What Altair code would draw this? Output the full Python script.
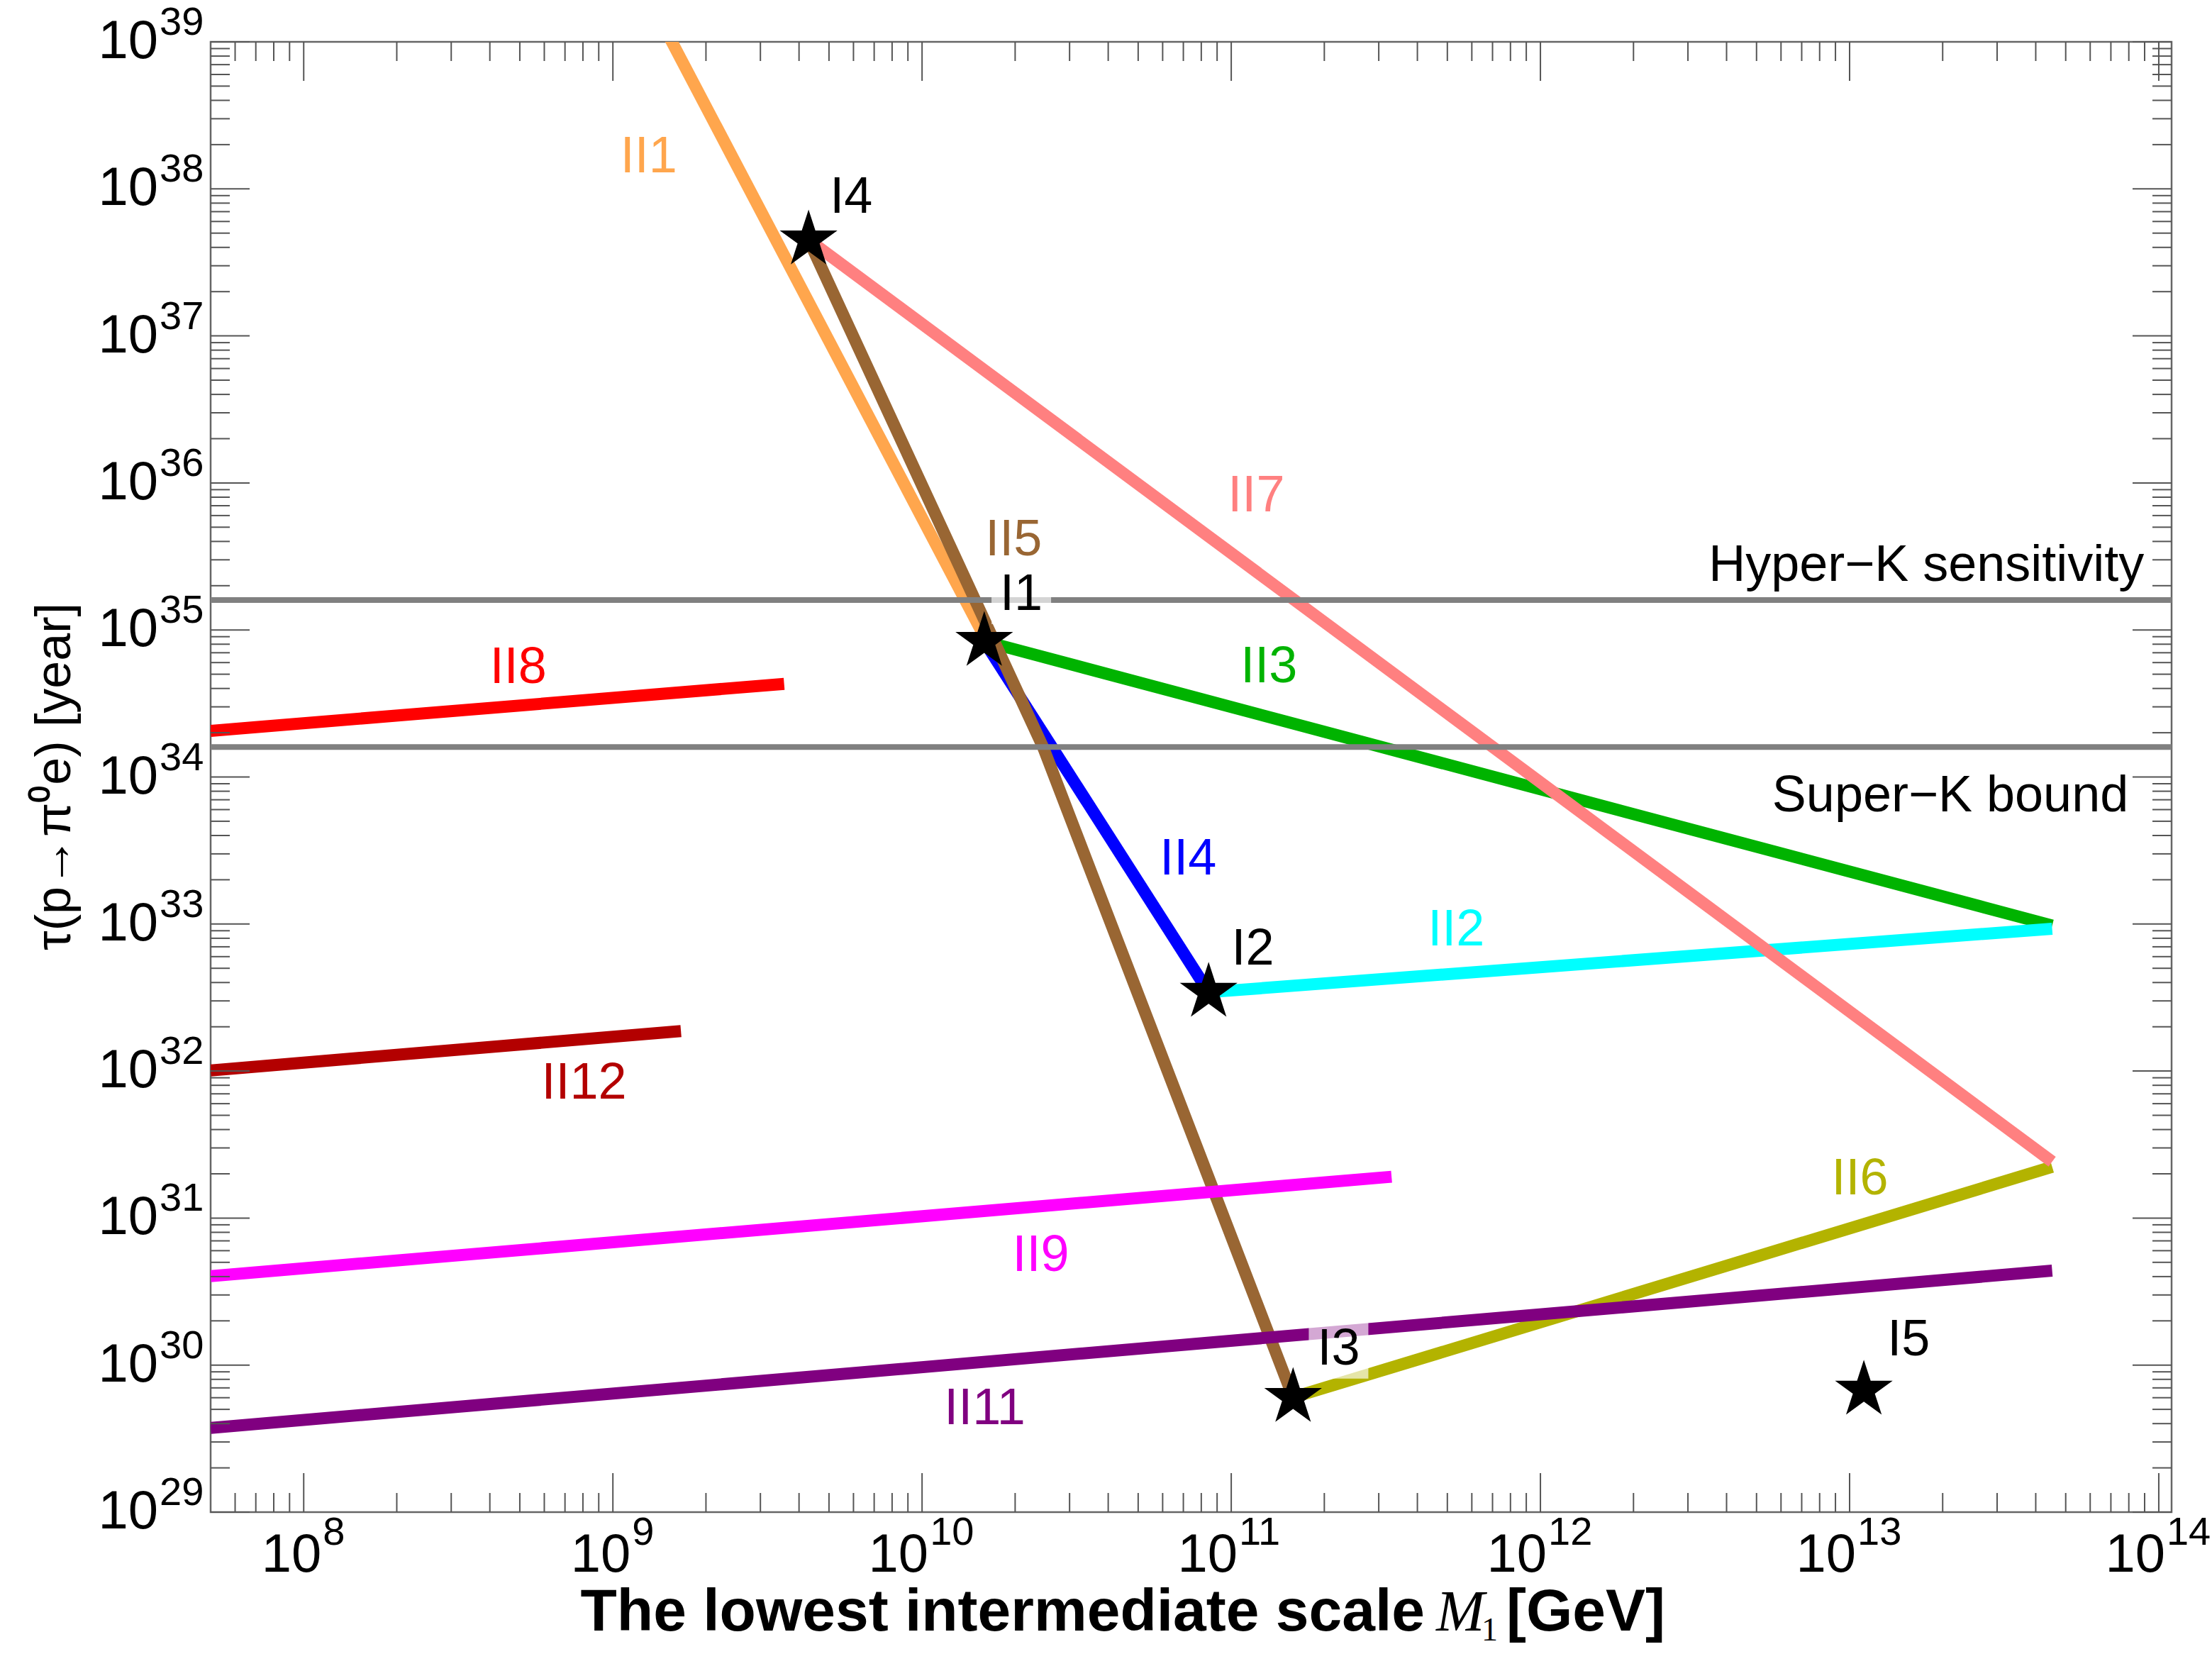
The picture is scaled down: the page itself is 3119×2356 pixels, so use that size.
import altair as alt
import pandas as pd

# ---------------- data ----------------
X_DOMAIN = [5e7, 1.1e14]
Y_DOMAIN = [1e29, 1e39]

II1_x = [1.26e9, 1.55e10]
II1_y = [2.3e39, 1.0e35]

II5_x = [4.295e9, 2.466e10, 1.585e11]
II5_y = [4.50e37, 1.585e34, 6.03e29]

II4_x = [1.589e10, 8.45e10]
II4_y = [8.38e34, 3.44e32]

II3_x = [1.589e10, 4.52e13]
II3_y = [8.38e34, 9.77e32]

II2_x = [8.45e10, 4.52e13]
II2_y = [3.44e32, 9.29e32]

II6_x = [1.585e11, 4.52e13]
II6_y = [6.03e29, 2.23e31]

II7_x = [4.295e9, 4.52e13]
II7_y = [4.50e37, 2.42e31]

II9_x = [5e7, 3.30e11]
II9_y = [4.03e30, 1.91e31]

II11_x = [5e7, 4.52e13]
II11_y = [3.74e29, 4.39e30]

II8_x = [5e7, 3.58e9]
II8_y = [2.06e34, 4.30e34]

II12_x = [5e7, 1.66e9]
II12_y = [1.01e32, 1.87e32]

# drawing order of the curves
series_order = ["II1", "II4", "II3", "II2", "II5", "II6", "II7", "II9", "II11", "II8", "II12"]
series_x = {"II1": II1_x, "II5": II5_x, "II4": II4_x, "II3": II3_x, "II2": II2_x, "II6": II6_x,
            "II7": II7_x, "II9": II9_x, "II11": II11_x, "II8": II8_x, "II12": II12_x}
series_y = {"II1": II1_y, "II5": II5_y, "II4": II4_y, "II3": II3_y, "II2": II2_y, "II6": II6_y,
            "II7": II7_y, "II9": II9_y, "II11": II11_y, "II8": II8_y, "II12": II12_y}

# benchmark points (stars)
star_names = ["I1", "I2", "I3", "I4", "I5"]
star_x = [1.589e10, 8.45e10, 1.585e11, 4.295e9, 1.112e13]
star_y = [8.38e34, 3.44e32, 6.03e29, 4.50e37, 6.76e29]

# experimental limits
ref_names = ["Hyper\u2212K sensitivity", "Super\u2212K bound"]
ref_values = [1.6e35, 1.6e34]
ref_label_x = [8.97e13, 7.98e13]
ref_label_y = [2.75e35, 7.45e33]

# curve / point labels
label_text = ["II1", "I4", "II7", "II5", "I1", "II3", "II4", "I2", "II8", "II2",
              "II12", "II6", "II9", "I3", "I5", "II11"]
label_x = [1.306e9, 5.90e9, 1.205e11, 1.977e10, 2.094e10, 1.325e11, 7.25e10, 1.175e11, 4.94e8,
           5.34e11, 8.07e8, 1.08e13, 2.42e10, 2.224e11, 1.553e13, 1.595e10]
label_y = [1.66e38, 8.79e37, 8.2e35, 4.11e35, 1.746e35, 5.62e34, 2.78e33, 6.76e32, 5.56e34,
           9.16e32, 8.32e31, 1.858e31, 5.57e30, 1.29e30, 1.486e30, 5.06e29]

# ticks
x_major = [1e8, 1e9, 1e10, 1e11, 1e12, 1e13, 1e14]
x_major_exp = ["8", "9", "10", "11", "12", "13", "14"]
y_major = [1e29, 1e30, 1e31, 1e32, 1e33, 1e34, 1e35, 1e36, 1e37, 1e38, 1e39]
y_major_exp = ["29", "30", "31", "32", "33", "34", "35", "36", "37", "38", "39"]
minor_mult = [2, 3, 4, 5, 6, 7, 8, 9]
x_decades = [1e7, 1e8, 1e9, 1e10, 1e11, 1e12, 1e13]
y_decades = [1e29, 1e30, 1e31, 1e32, 1e33, 1e34, 1e35, 1e36, 1e37, 1e38]

# ---------------- styles ----------------
W, H = 2765, 2073
colors = {"II1": "#FFA64D", "II5": "#996633", "II4": "#0000FF", "II3": "#00B300", "II2": "#00FFFF",
          "II6": "#B3B300", "II7": "#FF8080", "II9": "#FF00FF", "II11": "#800080", "II8": "#FF0000",
          "II12": "#B30000"}
label_colors = {"I1": "black", "I2": "black", "I3": "black", "I4": "black", "I5": "black"}
FONT = "Liberation Sans"
SERIF = "Liberation Serif"
TICK_COLOR = "#555555"
STAR = ("M0,-1L0.2245,-0.309L0.9511,-0.309L0.3633,0.118L0.5878,0.809L0,0.382"
        "L-0.5878,0.809L-0.3633,0.118L-0.9511,-0.309L-0.2245,-0.309Z")

xs = alt.Scale(type="log", domain=X_DOMAIN, nice=False)
ys = alt.Scale(type="log", domain=Y_DOMAIN, nice=False)


def X(f):
    return alt.X(f, type="quantitative", scale=xs, axis=None)


def Y(f):
    return alt.Y(f, type="quantitative", scale=ys, axis=None)


layers = []

# curves
for name in series_order:
    df = pd.DataFrame({"x": series_x[name], "y": series_y[name]})
    layers.append(
        alt.Chart(df).mark_line(color=colors[name], strokeWidth=17, strokeCap="butt",
                                strokeJoin="round", clip=True)
        .encode(x=X("x"), y=Y("y"))
    )

# experimental limits
ref_df = pd.DataFrame({"name": ref_names, "v": ref_values})
layers.append(alt.Chart(ref_df).mark_rule(color="#808080", strokeWidth=8).encode(y=Y("v")))

# label backgrounds (for the benchmark labels)
lab_df = pd.DataFrame({"t": label_text, "x": label_x, "y": label_y})
lab_df["c"] = [label_colors.get(t, colors.get(t, "black")) for t in label_text]
box_df = lab_df[lab_df["t"].isin(star_names)]
layers.append(
    alt.Chart(box_df).mark_point(shape="square", filled=True, color="white", opacity=0.66,
                                 size=7056, strokeWidth=0)
    .encode(x=X("x"), y=Y("y"))
)

# stars
star_df = pd.DataFrame({"n": star_names, "x": star_x, "y": star_y})
layers.append(
    alt.Chart(star_df).mark_point(shape=STAR, filled=True, color="black", opacity=1, size=7300,
                                  strokeWidth=0)
    .encode(x=X("x"), y=Y("y"))
)

# labels
layers.append(
    alt.Chart(lab_df).mark_text(font=FONT, fontSize=72, align="center", baseline="middle")
    .encode(x=X("x"), y=Y("y"), text="t:N", color=alt.Color("c:N", scale=None))
)
ref_lab_df = pd.DataFrame({"t": ref_names, "x": ref_label_x, "y": ref_label_y})
layers.append(
    alt.Chart(ref_lab_df).mark_text(font=FONT, fontSize=72, align="right", baseline="middle",
                                    color="black")
    .encode(x=X("x"), y=Y("y"), text="t:N")
)

# frame ticks
x_minor = [m * d for d in x_decades for m in minor_mult if X_DOMAIN[0] < m * d < X_DOMAIN[1]]
y_minor = [m * d for d in y_decades for m in minor_mult]
for vals, ln in [(x_major, 55), (x_minor, 27)]:
    d = pd.DataFrame({"v": vals})
    layers.append(alt.Chart(d).mark_rule(color=TICK_COLOR, strokeWidth=2)
                  .encode(x=X("v"), y=alt.value(H), y2=alt.value(H - ln)))
    layers.append(alt.Chart(d).mark_rule(color=TICK_COLOR, strokeWidth=2)
                  .encode(x=X("v"), y=alt.value(0), y2=alt.value(ln)))
for vals, ln in [(y_major, 55), (y_minor, 27)]:
    d = pd.DataFrame({"v": vals})
    layers.append(alt.Chart(d).mark_rule(color=TICK_COLOR, strokeWidth=2)
                  .encode(y=Y("v"), x=alt.value(0), x2=alt.value(ln)))
    layers.append(alt.Chart(d).mark_rule(color=TICK_COLOR, strokeWidth=2)
                  .encode(y=Y("v"), x=alt.value(W), x2=alt.value(W - ln)))

# y tick labels
ydf = pd.DataFrame({"v": y_major, "e": y_major_exp})
layers.append(alt.Chart(ydf).mark_text(font=FONT, fontSize=76, align="right", baseline="middle",
                                       text="10", color="black")
              .encode(x=alt.value(-74), y=Y("v")))
layers.append(alt.Chart(ydf).mark_text(font=FONT, fontSize=56, align="left", baseline="alphabetic",
                                       dy=-10, color="black")
              .encode(x=alt.value(-72), y=Y("v"), text="e:N"))

# x tick labels
xdf = pd.DataFrame({"v": x_major, "e": x_major_exp})
x1 = xdf[xdf["e"].str.len() == 1]
x2 = xdf[xdf["e"].str.len() == 2]
for d, dx10, dxe in [(x1, 25, 27), (x2, 9, 11)]:
    layers.append(alt.Chart(d).mark_text(font=FONT, fontSize=76, align="right", baseline="alphabetic",
                                         text="10", dx=dx10, color="black")
                  .encode(x=X("v"), y=alt.value(H + 84)))
    layers.append(alt.Chart(d).mark_text(font=FONT, fontSize=56, align="left", baseline="alphabetic",
                                         dx=dxe, color="black")
                  .encode(x=X("v"), y=alt.value(H + 46), text="e:N"))

# axis titles
ytitle = pd.DataFrame({"t": ["\u03c4(p\u2192\u03c0\u2070e) [year]"]})
layers.append(alt.Chart(ytitle).mark_text(font=FONT, fontSize=70, angle=270, align="center",
                                          baseline="middle", color="black")
              .encode(x=alt.value(-219), y=alt.value(1036), text="t:N"))

xt_a = pd.DataFrame({"t": ["The lowest intermediate scale"]})
xt_m = pd.DataFrame({"t": ["M"]})
xt_s = pd.DataFrame({"t": ["1"]})
xt_g = pd.DataFrame({"t": ["[GeV]"]})
layers.append(alt.Chart(xt_a).mark_text(font=FONT, fontSize=84, fontWeight="bold", align="right",
                                        baseline="alphabetic", color="black")
              .encode(x=alt.value(1712), y=alt.value(2240), text="t:N"))
layers.append(alt.Chart(xt_m).mark_text(font=SERIF, fontSize=82, fontStyle="italic", align="left",
                                        baseline="alphabetic", color="black")
              .encode(x=alt.value(1728), y=alt.value(2240), text="t:N"))
layers.append(alt.Chart(xt_s).mark_text(font=SERIF, fontSize=46, align="left",
                                        baseline="alphabetic", color="black")
              .encode(x=alt.value(1792), y=alt.value(2254), text="t:N"))
layers.append(alt.Chart(xt_g).mark_text(font=FONT, fontSize=84, fontWeight="bold", align="left",
                                        baseline="alphabetic", color="black")
              .encode(x=alt.value(1827), y=alt.value(2240), text="t:N"))

chart = (
    alt.layer(*layers)
    .properties(width=W, height=H, padding={"left": 297, "top": 59, "right": 57, "bottom": 224},
                autosize=alt.AutoSizeParams(type="none"))
    .configure_view(stroke="#666666", strokeWidth=2.5)
)

chart.save("out.html", embed_options={"renderer": "svg", "actions": False})
